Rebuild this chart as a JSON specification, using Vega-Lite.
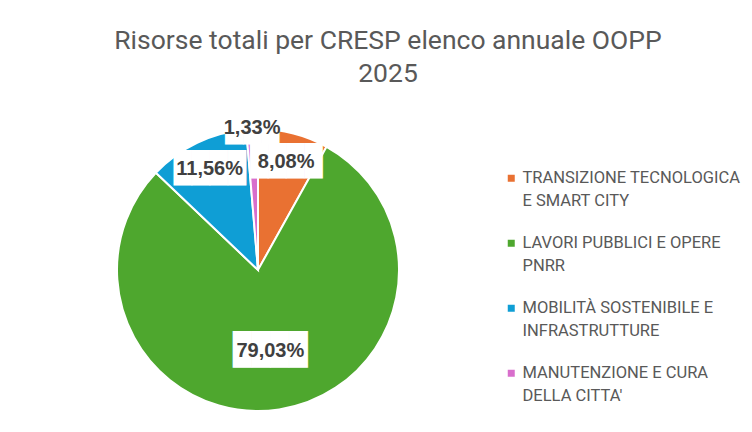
{
  "$schema": "https://vega.github.io/schema/vega-lite/v6.json",
  "width": 300,
  "height": 300,
  "autosize": {"type": "none"},
  "padding": {"left": 108, "top": 120, "right": 344, "bottom": 12},
  "background": "white",
  "config": {
    "view": {"stroke": null},
    "style": {"guide-label": {"lineHeight": 23}}
  },
  "title": {
    "text": ["Risorse totali per CRESP elenco annuale OOPP", "2025"],
    "anchor": "middle",
    "frame": "group",
    "dx": 130,
    "offset": 26,
    "fontSize": 26.5,
    "font": "Roboto",
    "fontWeight": "normal",
    "color": "#595959",
    "lineHeight": 33
  },
  "data": {
    "values": [
      {"categoria": "TRANSIZIONE TECNOLOGICA|E SMART CITY", "quota": 8.08, "etichetta": "8,08%", "ord": 1},
      {"categoria": "LAVORI PUBBLICI E OPERE|PNRR", "quota": 79.03, "etichetta": "79,03%", "ord": 2},
      {"categoria": "MOBILITÀ SOSTENIBILE E|INFRASTRUTTURE", "quota": 11.56, "etichetta": "11,56%", "ord": 3},
      {"categoria": "MANUTENZIONE E CURA|DELLA CITTA'", "quota": 1.33, "etichetta": "1,33%", "ord": 4}
    ]
  },
  "encoding": {
    "theta": {"field": "quota", "type": "quantitative", "stack": true},
    "order": {"field": "ord", "type": "quantitative"}
  },
  "layer": [
    {
      "mark": {"type": "arc", "outerRadius": 141, "stroke": "white", "strokeWidth": 2},
      "encoding": {
        "color": {
          "field": "categoria",
          "type": "nominal",
          "sort": null,
          "scale": {
            "domain": ["TRANSIZIONE TECNOLOGICA|E SMART CITY", "LAVORI PUBBLICI E OPERE|PNRR", "MOBILITÀ SOSTENIBILE E|INFRASTRUTTURE", "MANUTENZIONE E CURA|DELLA CITTA'"],
            "range": ["#E97132", "#4EA72E", "#0F9ED5", "#D86ECC"]
          },
          "legend": {
            "orient": "none",
            "legendX": 395,
            "legendY": 50,
            "title": null,
            "symbolType": "square",
            "symbolSize": 49,
            "symbolStrokeWidth": 0,
            "labelExpr": "split(datum.label, '|')",
            "labelFont": "Roboto",
            "labelFontSize": 16.5,
            "labelColor": "#595959",
            "labelLimit": 300,
            "labelOffset": 3,
            "rowPadding": 25
          }
        }
      }
    },
    {
      "mark": {"type": "text", "radius": 82, "font": "DejaVu Sans Mono", "fontSize": 31, "color": "white"},
      "encoding": {"text": {"condition": {"test": "datum.quota > 50", "value": "████"}, "value": ""}}
    },
    {
      "mark": {"type": "text", "radius": 112, "font": "DejaVu Sans Mono", "fontSize": 30, "color": "white"},
      "encoding": {"text": {"condition": {"test": "datum.quota > 5 && datum.quota < 50", "value": "████"}, "value": ""}}
    },
    {
      "mark": {"type": "text", "radius": 142, "font": "DejaVu Sans Mono", "fontSize": 30, "color": "white"},
      "encoding": {"text": {"condition": {"test": "datum.quota < 5", "value": "███"}, "value": ""}}
    },
    {
      "mark": {"type": "text", "radius": 82, "font": "Liberation Sans", "fontWeight": "bold", "fontSize": 20, "color": "#404040"},
      "encoding": {"text": {"condition": {"test": "datum.quota > 50", "field": "etichetta"}, "value": ""}}
    },
    {
      "mark": {"type": "text", "radius": 112, "font": "Liberation Sans", "fontWeight": "bold", "fontSize": 20, "color": "#404040"},
      "encoding": {"text": {"condition": {"test": "datum.quota > 5 && datum.quota < 50", "field": "etichetta"}, "value": ""}}
    },
    {
      "mark": {"type": "text", "radius": 142, "font": "Liberation Sans", "fontWeight": "bold", "fontSize": 20, "color": "#404040"},
      "encoding": {"text": {"condition": {"test": "datum.quota < 5", "field": "etichetta"}, "value": ""}}
    }
  ]
}
